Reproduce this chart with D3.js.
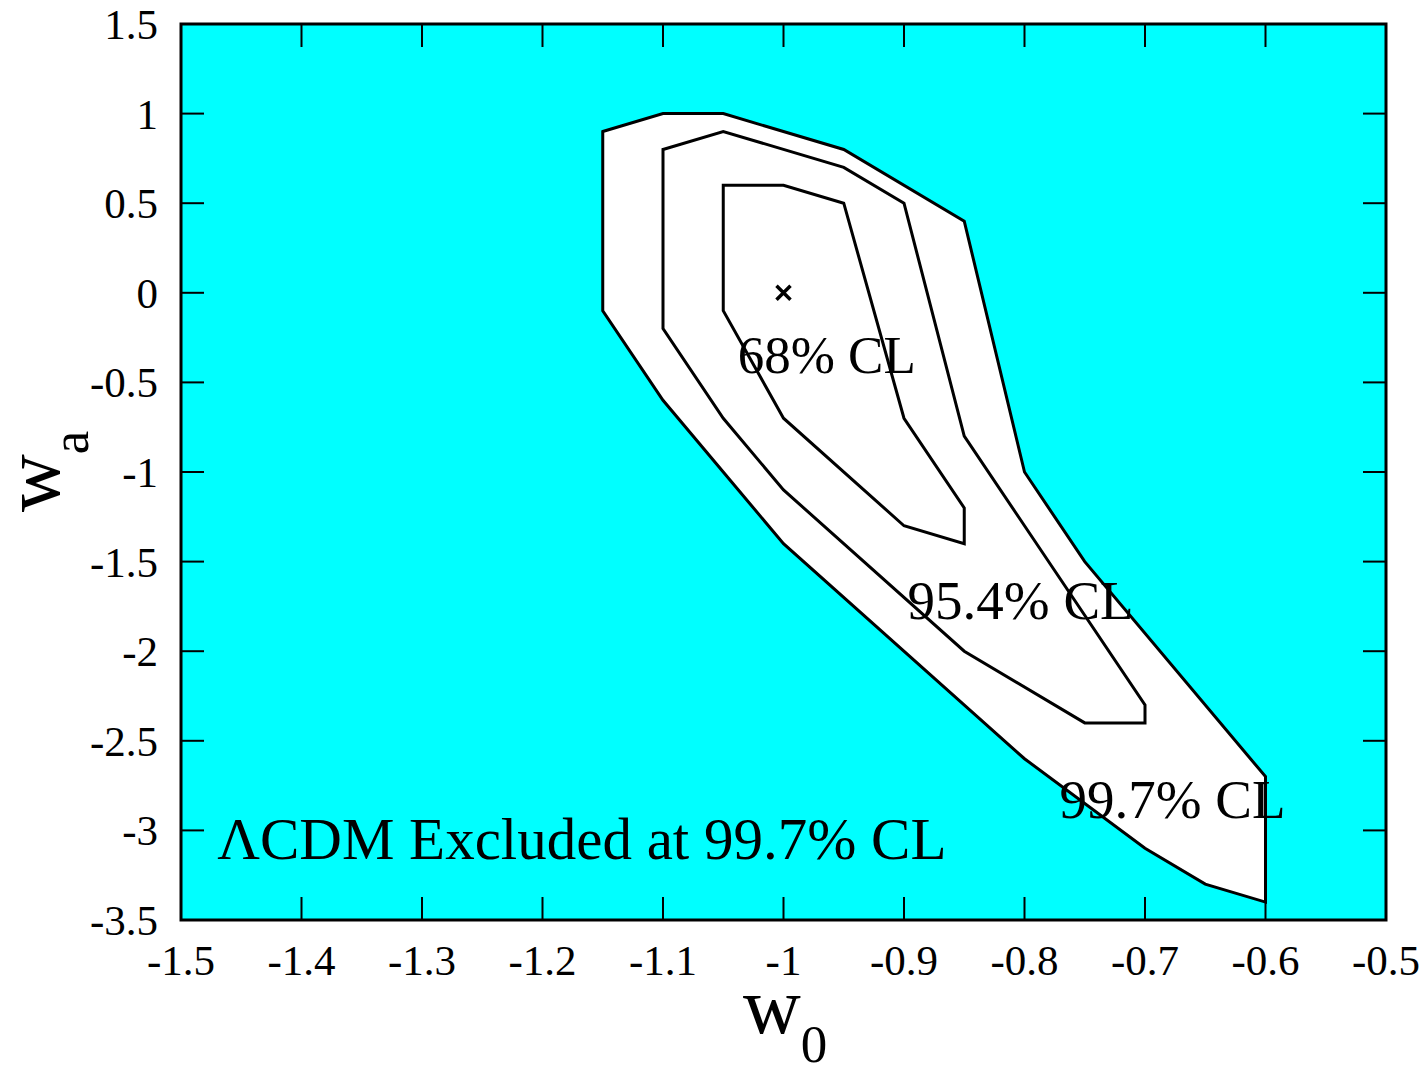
<!DOCTYPE html>
<html>
<head>
<meta charset="utf-8">
<script src="https://cdn.jsdelivr.net/npm/d3@7"></script>
<style>
body { margin: 0; background: #fff; }
svg text { font-family: "Liberation Serif", "Times New Roman", serif; fill: #000; }
</style>
</head>
<body>
<svg width="1424" height="1068"></svg>
<script>
// contour vertices [w0, wa]
const contour997 = [[-1.15, 0.9], [-1.1, 1.0], [-1.05, 1.0], [-0.95, 0.8], [-0.85, 0.4], [-0.8, -1.0], [-0.75, -1.5],
  [-0.6, -2.7], [-0.6, -3.4], [-0.65, -3.3], [-0.7, -3.1], [-0.8, -2.6], [-1.0, -1.4], [-1.1, -0.6], [-1.15, -0.1]]
const contour954 = [[-1.1, 0.8], [-1.05, 0.9], [-0.95, 0.7], [-0.9, 0.5], [-0.85, -0.8], [-0.8, -1.3], [-0.7, -2.3],
  [-0.7, -2.4], [-0.75, -2.4], [-0.85, -2.0], [-1.0, -1.1], [-1.05, -0.7], [-1.1, -0.2]]
const contour68 = [[-1.05, 0.6], [-1.0, 0.6], [-0.95, 0.5], [-0.9, -0.7], [-0.85, -1.2], [-0.85, -1.4], [-0.9, -1.3],
  [-1.0, -0.7], [-1.05, -0.1]]
const bestFit = [-1.0, 0.0]

const xTicks = [-1.5, -1.4, -1.3, -1.2, -1.1, -1, -0.9, -0.8, -0.7, -0.6, -0.5]
const yTicks = [1.5, 1, 0.5, 0, -0.5, -1, -1.5, -2, -2.5, -3, -3.5]

const labels = [
  {text: "68% CL", x: -1.038, y: -0.45, size: 53},
  {text: "95.4% CL", x: -0.897, y: -1.82, size: 55},
  {text: "99.7% CL", x: -0.771, y: -2.93, size: 55},
  {text: "\u039BCDM Excluded at 99.7% CL", x: -1.47, y: -3.16, size: 59}
]

const margin = {left: 181, right: 38, top: 24, bottom: 148}
const width = 1424 - margin.left - margin.right,
  height = 1068 - margin.top - margin.bottom

const x = d3.scaleLinear().domain([-1.5, -0.5]).range([0, width])
const y = d3.scaleLinear().domain([-3.5, 1.5]).range([height, 0])

const svg = d3.select("svg")
const g = svg.append("g").attr("transform", `translate(${margin.left},${margin.top})`)

g.append("rect").attr("width", width).attr("height", height).attr("fill", "#00ffff")

const line = d3.line().x(d => x(d[0])).y(d => y(d[1])).curve(d3.curveLinearClosed)

g.selectAll("path.contour")
  .data([contour997, contour954, contour68])
  .join("path")
  .attr("class", "contour")
  .attr("d", line)
  .attr("fill", "#fff")
  .attr("stroke", "#000")
  .attr("stroke-width", 3)
  .attr("stroke-linejoin", "miter")

// best fit marker
const s = 7
g.append("path")
  .attr("d", `M${x(bestFit[0]) - s},${y(bestFit[1]) - s}L${x(bestFit[0]) + s},${y(bestFit[1]) + s}M${x(bestFit[0]) - s},${y(bestFit[1]) + s}L${x(bestFit[0]) + s},${y(bestFit[1]) - s}`)
  .attr("stroke", "#000").attr("stroke-width", 3.5)

g.selectAll("text.lab")
  .data(labels)
  .join("text")
  .attr("class", "lab")
  .attr("x", d => x(d.x))
  .attr("y", d => y(d.y))
  .attr("font-size", d => d.size)
  .text(d => d.text)

// ticks, inward on all sides
const tl = 23
g.selectAll("line.xt")
  .data(xTicks.slice(1, -1))
  .join("line")
  .attr("x1", d => x(d)).attr("x2", d => x(d))
  .attr("y1", height).attr("y2", height - tl)
  .attr("stroke", "#000").attr("stroke-width", 2)
g.selectAll("line.xt2")
  .data(xTicks.slice(1, -1))
  .join("line")
  .attr("x1", d => x(d)).attr("x2", d => x(d))
  .attr("y1", 0).attr("y2", tl)
  .attr("stroke", "#000").attr("stroke-width", 2)
g.selectAll("line.yt")
  .data(yTicks.slice(1, -1))
  .join("line")
  .attr("x1", 0).attr("x2", tl)
  .attr("y1", d => y(d)).attr("y2", d => y(d))
  .attr("stroke", "#000").attr("stroke-width", 2)
g.selectAll("line.yt2")
  .data(yTicks.slice(1, -1))
  .join("line")
  .attr("x1", width).attr("x2", width - tl)
  .attr("y1", d => y(d)).attr("y2", d => y(d))
  .attr("stroke", "#000").attr("stroke-width", 2)

g.append("rect").attr("width", width).attr("height", height)
  .attr("fill", "none").attr("stroke", "#000").attr("stroke-width", 3)

g.selectAll("text.xl")
  .data(xTicks)
  .join("text")
  .attr("x", d => x(d))
  .attr("y", height + 55)
  .attr("text-anchor", "middle")
  .attr("font-size", 43)
  .text(d => d)

g.selectAll("text.yl")
  .data(yTicks)
  .join("text")
  .attr("x", -23)
  .attr("y", d => y(d) + 15)
  .attr("text-anchor", "end")
  .attr("font-size", 43)
  .text(d => d)

// axis titles
svg.append("text")
  .attr("x", 743).attr("y", 1033)
  .attr("font-size", 80)
  .text("w")
  .append("tspan").attr("font-size", 53).attr("dy", 29).text("0")

svg.append("text")
  .attr("transform", "translate(59,512) rotate(-90)")
  .attr("font-size", 80)
  .text("w")
  .append("tspan").attr("font-size", 53).attr("dy", 29).text("a")
</script>
</body>
</html>
